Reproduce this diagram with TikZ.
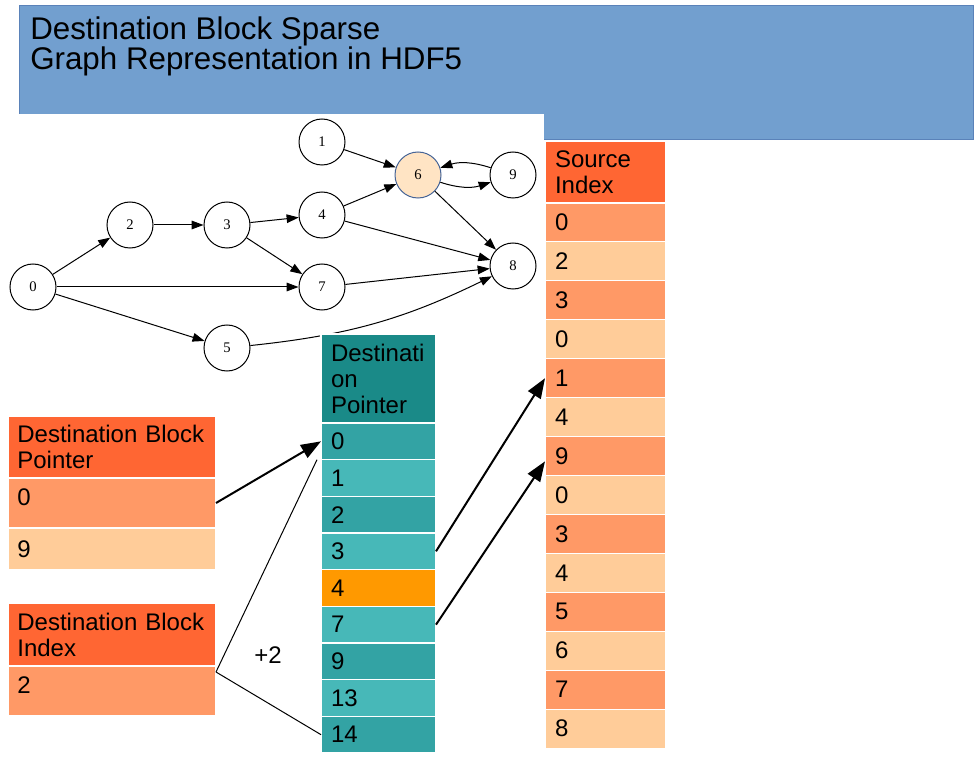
\documentclass[tikz,border=0pt]{standalone}
\usepackage{fontspec}
\setmainfont{Liberation Sans}
\newfontfamily\graphfont{Liberation Serif}
\usepackage{xcolor}
\usetikzlibrary{positioning,arrows.meta}
\definecolor{titleblue}{RGB}{114,159,207}
\definecolor{titleedge}{RGB}{90,130,185}
\definecolor{hdrorange}{RGB}{255,102,51}
\definecolor{midorange}{RGB}{255,153,102}
\definecolor{paleorange}{RGB}{255,204,153}
\definecolor{hdrteal}{RGB}{26,138,136}
\definecolor{darkteal}{RGB}{51,163,164}
\definecolor{lightteal}{RGB}{71,184,184}
\definecolor{hotorange}{RGB}{255,153,0}
\definecolor{bisque}{RGB}{255,228,196}
\definecolor{bisqueedge}{RGB}{70,100,150}
\newcommand{\ttlfont}{\fontsize{23.5}{22}\selectfont}
\newcommand{\cellfont}{\fontsize{18}{19.5}\selectfont}
\newcommand{\vtxfont}{\graphfont\fontsize{11}{11}\selectfont}

\begin{document}
\begin{tikzpicture}[x=0.75pt, y=-0.75pt,
  vertex/.style={circle,draw=black,line width=0.75pt,minimum size=34.5pt,inner sep=0pt,font=\vtxfont},
  edge/.style={line width=0.75pt,-{Triangle[length=9pt,width=6.5pt]}},
  ptr/.style={line width=1.5pt,-{Triangle[length=15pt,width=11pt]}},
  cell/.style={rectangle,draw=white,line width=0.8pt,outer sep=0pt,inner xsep=7.5pt,inner ysep=0pt,align=left,font=\cellfont},
  sicell/.style={cell,text width=75.75pt,minimum height=29.2pt},
  dpcell/.style={cell,text width=71.25pt,minimum height=27.5pt},
  dbcell/.style={cell,inner xsep=7pt,text width=142pt},
  raised/.style={text depth=9pt},
]
\useasboundingbox (0,0) rectangle (979,763);

% title block, cut by the graph picture
\fill[titleblue, draw=titleedge, line width=0.5pt] (19,5) rectangle (973,139);
\fill[white] (18,114) rectangle (544,141);
\node[anchor=north west, inner sep=0pt, align=left, font=\ttlfont] (title) at (30,17) {Destination Block Sparse\\Graph Representation in HDF5};

% graph
\node[vertex] (N0) at (33,287)  {0};
\node[vertex] (N1) at (322,142) {1};
\node[vertex] (N2) at (130,225) {2};
\node[vertex] (N3) at (227,225) {3};
\node[vertex] (N4) at (322,215) {4};
\node[vertex] (N5) at (227,348) {5};
\node[vertex, fill=bisque, draw=bisqueedge] (N6) at (418,175) {6};
\node[vertex] (N7) at (322,287) {7};
\node[vertex] (N8) at (513,266) {8};
\node[vertex] (N9) at (513,175) {9};

\draw[edge] (N0) -- (N2);
\draw[edge] (N2) -- (N3);
\draw[edge] (N3) -- (N4);
\draw[edge] (N3) -- (N7);
\draw[edge] (N0) -- (N7);
\draw[edge] (N0) -- (N5);
\draw[edge] (N1) -- (N6);
\draw[edge] (N4) -- (N6);
\draw[edge] (N4) -- (N8);
\draw[edge] (N7) -- (N8);
\draw[edge] (N6) -- (N8);
\draw[edge] (N5) to[bend right=10] (N8);
\draw[edge] (N6) to[bend right=18] (N9);
\draw[edge] (N9) to[bend right=18] (N6);

% source index
\node[sicell, fill=hdrorange, minimum height=46.5pt, anchor=north west] (SI) at (545,141) {Source\\Index};
\node[sicell, fill=midorange]  (SI0)  [below=0pt of SI]   {0};
\node[sicell, fill=paleorange] (SI1)  [below=0pt of SI0]  {2};
\node[sicell, fill=midorange]  (SI2)  [below=0pt of SI1]  {3};
\node[sicell, fill=paleorange] (SI3)  [below=0pt of SI2]  {0};
\node[sicell, fill=midorange]  (SI4)  [below=0pt of SI3]  {1};
\node[sicell, fill=paleorange] (SI5)  [below=0pt of SI4]  {4};
\node[sicell, fill=midorange]  (SI6)  [below=0pt of SI5]  {9};
\node[sicell, fill=paleorange] (SI7)  [below=0pt of SI6]  {0};
\node[sicell, fill=midorange]  (SI8)  [below=0pt of SI7]  {3};
\node[sicell, fill=paleorange] (SI9)  [below=0pt of SI8]  {4};
\node[sicell, fill=midorange]  (SI10) [below=0pt of SI9]  {5};
\node[sicell, fill=paleorange] (SI11) [below=0pt of SI10] {6};
\node[sicell, fill=midorange]  (SI12) [below=0pt of SI11] {7};
\node[sicell, fill=paleorange] (SI13) [below=0pt of SI12] {8};

% destination pointer
\node[dpcell, fill=hdrteal, minimum height=66.75pt, anchor=north west] (DP) at (321,334) {Destinati\\on\\Pointer};
\node[dpcell, fill=darkteal]  (DP0) [below=0pt of DP]  {0};
\node[dpcell, fill=lightteal] (DP1) [below=0pt of DP0] {1};
\node[dpcell, fill=darkteal]  (DP2) [below=0pt of DP1] {2};
\node[dpcell, fill=lightteal] (DP3) [below=0pt of DP2] {3};
\node[dpcell, fill=hotorange] (DP4) [below=0pt of DP3] {4};
\node[dpcell, fill=lightteal] (DP5) [below=0pt of DP4] {7};
\node[dpcell, fill=darkteal]  (DP6) [below=0pt of DP5] {9};
\node[dpcell, fill=lightteal] (DP7) [below=0pt of DP6] {13};
\node[dpcell, fill=darkteal]  (DP8) [below=0pt of DP7] {14};

% destination block pointer / index
\node[dbcell, fill=hdrorange, minimum height=46.5pt, anchor=north west] (DBP) at (8,416) {Destination Block\\Pointer};
\node[dbcell, fill=midorange, minimum height=37.5pt, raised] (DBP0) [below=0pt of DBP]  {0};
\node[dbcell, fill=paleorange, minimum height=31.5pt]       (DBP1) [below=0pt of DBP0] {9};
%
\node[dbcell, fill=hdrorange, minimum height=47.25pt, anchor=north west] (DBI) at (8,603) {Destination Block\\Index};
\node[dbcell, fill=midorange, minimum height=37.5pt, raised] (DBI0) [below=0pt of DBI] {2};

\coordinate (fork) at ([yshift=-4.5pt]DBI0.north east);
\node[font=\cellfont] (plus) at (268,655) {+2};

\draw[ptr] (DBP0.east) -- (DP0.west);
\draw[ptr] (DP3.east) -- (SI4.west);
\draw[ptr] (DP5.east) -- (SI6.185);
\draw[line width=0.75pt] (fork) -- ([xshift=-3pt]DP0.south west);
\draw[line width=0.75pt] (fork) -- (DP8.west);

\end{tikzpicture}
\end{document}
